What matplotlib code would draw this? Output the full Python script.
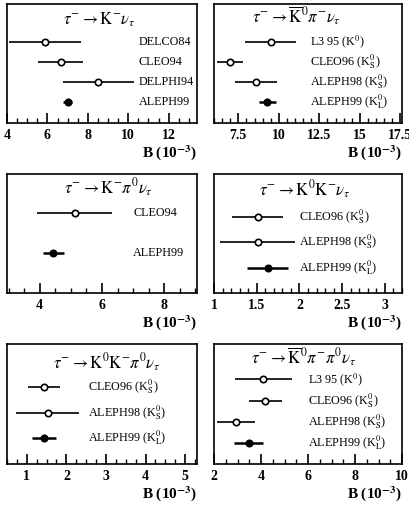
import matplotlib
matplotlib.use('Agg')
import matplotlib.pyplot as plt
from matplotlib.ticker import MultipleLocator, FormatStrFormatter

plt.rcParams['font.family'] = ['Liberation Serif', 'DejaVu Serif']
plt.rcParams['mathtext.fontset'] = 'stix'

# tau -> K nu
kn_labels = ['DELCO84', 'CLEO94', 'DELPHI94', 'ALEPH99']
kn_vals = [5.9, 6.65, 8.52, 7.0]
kn_errs = [1.78, 1.1, 1.77, 0.22]
kn_filled = [False, False, False, True]

# tau -> K0bar pi nu
k0pi_labels = [r'L3 95 (K$^0$)', r'CLEO96 (K$^0_\mathrm{S}$)',
               r'ALEPH98 (K$^0_\mathrm{S}$)', r'ALEPH99 (K$^0_\mathrm{L}$)']
k0pi_vals = [9.5, 7.0, 8.58, 9.29]
k0pi_errs = [1.56, 0.8, 1.3, 0.52]
k0pi_filled = [False, False, False, True]

# tau -> K pi0 nu
kpi0_labels = ['CLEO94', 'ALEPH99']
kpi0_vals = [5.12, 4.44]
kpi0_errs = [1.2, 0.35]
kpi0_filled = [False, True]

# tau -> K0 K nu
k0k_labels = [r'CLEO96 (K$^0_\mathrm{S}$)', r'ALEPH98 (K$^0_\mathrm{S}$)',
              r'ALEPH99 (K$^0_\mathrm{L}$)']
k0k_vals = [1.51, 1.51, 1.63]
k0k_errs = [0.3, 0.44, 0.24]
k0k_filled = [False, False, True]

# tau -> K0 K pi0 nu
k0kpi_labels = k0k_labels
k0kpi_vals = [1.44, 1.53, 1.44]
k0kpi_errs = [0.4, 0.8, 0.3]
k0kpi_filled = [False, False, True]

# tau -> K0bar pi pi0 nu
k0pipi_labels = k0pi_labels
k0pipi_vals = [4.1, 4.18, 2.94, 3.47]
k0pipi_errs = [1.22, 0.71, 0.81, 0.63]
k0pipi_filled = [False, False, False, True]

titles = [r'$\tau^{-}\rightarrow\mathrm{K}^{-}\nu_{\tau}$',
          r'$\tau^{-}\rightarrow\overline{\mathrm{K}}^{0}\pi^{-}\nu_{\tau}$',
          r'$\tau^{-}\rightarrow\mathrm{K}^{-}\pi^{0}\nu_{\tau}$',
          r'$\tau^{-}\rightarrow\mathrm{K}^{0}\mathrm{K}^{-}\nu_{\tau}$',
          r'$\tau^{-}\rightarrow\mathrm{K}^{0}\mathrm{K}^{-}\pi^{0}\nu_{\tau}$',
          r'$\tau^{-}\rightarrow\overline{\mathrm{K}}^{0}\pi^{-}\pi^{0}\nu_{\tau}$']

panels = [
    (kn_labels, kn_vals, kn_errs, kn_filled),
    (k0pi_labels, k0pi_vals, k0pi_errs, k0pi_filled),
    (kpi0_labels, kpi0_vals, kpi0_errs, kpi0_filled),
    (k0k_labels, k0k_vals, k0k_errs, k0k_filled),
    (k0kpi_labels, k0kpi_vals, k0kpi_errs, k0kpi_filled),
    (k0pipi_labels, k0pipi_vals, k0pipi_errs, k0pipi_filled),
]

# layout: xlim, major, minor, row top, row step, label x, title x, title y
layout = [
    ((4, 13.4), 2, 0.5, 0.68, 0.169, 0.694, 0.297, 0.83),
    ((6, 17.6), 2.5, 0.5, 0.68, 0.169, 0.51, 0.20, 0.84),
    ((2.95, 9.05), 2, 0.5, 0.676, 0.341, 0.665, 0.30, 0.83),
    ((1, 3.2), 0.5, 0.1, 0.642, 0.215, 0.45, 0.24, 0.815),
    ((0.5, 5.3), 1, 0.25, 0.644, 0.215, 0.427, 0.24, 0.79),
    ((2, 10), 2, 0.5, 0.705, 0.176, 0.50, 0.196, 0.84),
]

rects = [
    (7/409, 1 - 123/511, 190/409, 119/511),
    (214/409, 1 - 123/511, 188/409, 119/511),
    (7/409, 1 - 293/511, 190/409, 119/511),
    (214/409, 1 - 293/511, 188/409, 119/511),
    (7/409, 1 - 464/511, 190/409, 120/511),
    (214/409, 1 - 464/511, 188/409, 120/511),
]

fig = plt.figure(figsize=(4.09, 5.11), dpi=100)

for i in range(6):
    labels, vals, errs, filled = panels[i]
    xlim, major, minor, top, step, lx, tx, ty = layout[i]
    ax = fig.add_axes(rects[i])
    for j in range(len(vals)):
        y = top - j * step
        ax.errorbar(vals[j], y, xerr=errs[j], fmt='o', color='black',
                    mfc='black' if filled[j] else 'white', mec='black',
                    ms=4.6, mew=1.2, lw=1.8 if filled[j] else 1.2, capsize=0)
        ax.text(lx, y, labels[j], transform=ax.transAxes,
                ha='left', va='center', fontsize=8.7)
    ax.text(tx, ty, titles[i], transform=ax.transAxes, ha='left',
            va='baseline', fontsize=12)
    ax.set_xlim(xlim)
    ax.set_ylim(0, 1)
    ax.xaxis.set_major_locator(MultipleLocator(major))
    ax.xaxis.set_minor_locator(MultipleLocator(minor))
    ax.xaxis.set_major_formatter(FormatStrFormatter('%g'))
    ax.set_yticks([])
    ax.tick_params(axis='x', which='major', direction='in', length=7,
                   width=1.2, pad=4, labelsize=10)
    ax.tick_params(axis='x', which='minor', direction='in', length=3.5,
                   width=1.0)
    for lab in ax.get_xticklabels():
        lab.set_fontweight('bold')
    for sp in ax.spines.values():
        sp.set_linewidth(1.2)
    ax.text(1.0, -0.25, r'B (10$^{\mathbf{-3}}$)', transform=ax.transAxes,
            ha='right', va='center', fontsize=11, fontweight='bold')

fig.savefig('out.png', dpi=100)
